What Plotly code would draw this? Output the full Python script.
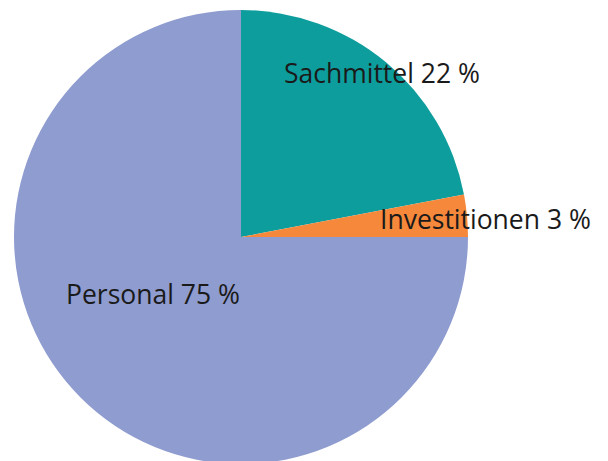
import plotly.graph_objects as go

labels = ["Sachmittel", "Investitionen", "Personal"]
values = [22, 3, 75]
colors = ["#0e9d9d", "#f5883b", "#8f9ccf"]
# label anchor positions in pixels (x, y from top of plot div)
label_px = [(374, 65), (477, 211), (145, 286)]

W, H = 608, 461
cx, cy, r = 233, 229, 227

fig = go.Figure(go.Pie(
    labels=labels, values=values, sort=False, direction="clockwise", rotation=0,
    marker=dict(colors=colors, line=dict(width=0)),
    textinfo="none", hoverinfo="label+percent", showlegend=False,
    domain=dict(x=[(cx - r) / W, (cx + r) / W], y=[(H - cy - r) / H, (H - cy + r) / H]),
))

for lab, val, (px, py) in zip(labels, values, label_px):
    fig.add_annotation(
        x=px / W, y=1 - py / H, xref="paper", yref="paper",
        text=f"{lab} {val} %", showarrow=False,
        font=dict(family="Open Sans", size=26.5, color="#1a1a1a"),
        xanchor="center", yanchor="middle",
    )

fig.update_layout(
    width=W, height=H, margin=dict(l=0, r=0, t=0, b=0),
    paper_bgcolor="white", plot_bgcolor="white",
)
fig.write_html("out.html")
